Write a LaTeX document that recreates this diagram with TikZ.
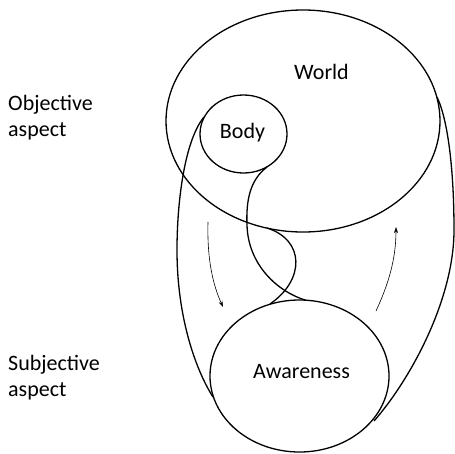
\documentclass[tikz,border=0pt]{standalone}
\usepackage{fontspec}
\setmainfont{Carlito}
\usetikzlibrary{arrows.meta}
\begin{document}
\begin{tikzpicture}[x=1pt,y=-1pt,
  shape line/.style={line width=1.3pt,black},
  flow arrow/.style={line width=0.6pt,black,-{Stealth[length=6pt,width=4pt]}},
  label text/.style={font=\fontsize{22}{26}\selectfont,inner sep=0pt,anchor=base},
  side text/.style={font=\fontsize{22}{26}\selectfont,inner sep=0pt,anchor=base west,align=left}]
\useasboundingbox (0,0) rectangle (455,453);
% shapes
\draw[shape line] (303,121) ellipse [x radius=137, y radius=111];
\draw[shape line] (243.5,134) ellipse [x radius=43.5, y radius=39];
\draw[shape line] (299.5,376) ellipse [x radius=89.5, y radius=76];
\coordinate (bl) at (204,117);
\coordinate (br) at (267,167);
\coordinate (wb) at (267,228);
\coordinate (wr) at (437,97);
\coordinate (al) at (213,397);
\coordinate (ar) at (374,421);
\coordinate (at) at (306,300.3);
\coordinate (atl) at (270,304);
% outer loop
\draw[shape line] (bl) .. controls (185,140) and (177,200) .. (177,250)
  .. controls (177,320) and (197,372) .. (al);
\draw[shape line] (ar) .. controls (410,380) and (454,300) .. (454,230)
  .. controls (454,170) and (448,120) .. (wr);
% inner S curves
\draw[shape line] (br) .. controls (250,180) and (246,200) .. (247,225)
  .. controls (248,265) and (278,292) .. (at);
\draw[shape line] (wb) .. controls (305,240) and (305,280) .. (atl);
% arrows
\coordinate (a1s) at (208,222);
\coordinate (a1e) at (223,307);
\coordinate (a2s) at (376,311);
\coordinate (a2e) at (396,227);
\draw[flow arrow] (a1s) .. controls (207,260) and (213,285) .. (a1e);
\draw[flow arrow] (a2s) .. controls (388,285) and (396,260) .. (a2e);
% labels
\node[label text] (world) at (321.5,79) {World};
\node[label text] (body) at (242.5,138) {Body};
\node[label text] (aware) at (301.5,378) {Awareness};
\node[side text] (obj) at (8,136) {Objective\\aspect};
\node[side text] (subj) at (8,396) {Subjective\\aspect};
\end{tikzpicture}
\end{document}
